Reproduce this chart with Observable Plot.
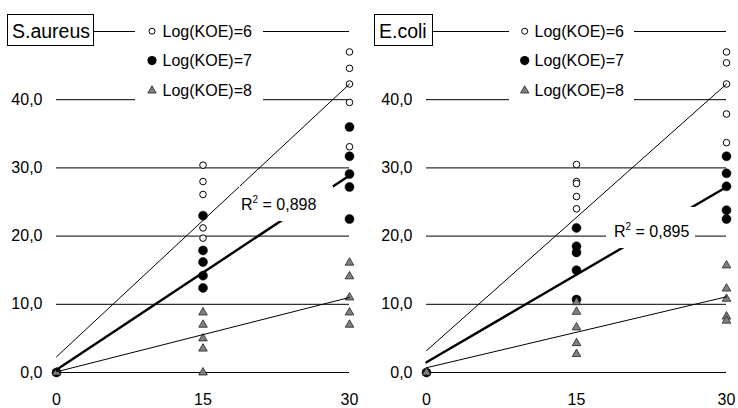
<!DOCTYPE html>
<html><head><meta charset="utf-8">
<script src="https://cdn.jsdelivr.net/npm/d3@7"></script>
<script src="https://cdn.jsdelivr.net/npm/@observablehq/plot@0.6"></script>
<style>
html,body{margin:0;padding:0;background:#fff;}
#wrap{position:relative;width:738px;height:408px;overflow:hidden;}
.panel{position:absolute;top:0;width:369px;height:408px;}
</style></head><body><div id="wrap"></div>
<script>
// ---- data ----
const times = [0, 15, 30];
const gridValues = [0, 10, 20, 30, 40, 50];
const yTickLabels = [0, 10, 20, 30, 40];   // the 50,0 label is hidden behind the title box in the reference
const seriesLabels = ["Log(KOE)=6", "Log(KOE)=7", "Log(KOE)=8"];
const panelTitles = ["S.aureus", "E.coli"];
const r2Values = ["0,898", "0,895"];

// S.aureus: measured values at t = 0, 15, 30
const aureus6 = [[0], [30.4, 28.0, 26.1, 21.2, 19.7], [47.0, 44.6, 42.3, 39.6, 33.1]];
const aureus7 = [[0], [23.0, 17.9, 16.2, 14.2, 12.4], [36.0, 31.7, 29.1, 27.2, 22.5]];
const aureus8 = [[0], [8.8, 7.0, 5.0, 3.5, 0.0], [16.1, 14.1, 11.0, 8.8, 7.0]];
// S.aureus trendline values at t = 0 and t = 30
const aureusTrend6 = [2.3, 42.3];
const aureusTrend7 = [0.4, 28.9];
const aureusTrend8 = [0.1, 11.0];

// E.coli: measured values at t = 0, 15, 30
const coli6 = [[0], [30.5, 28.0, 27.7, 25.8, 24.0], [47.0, 45.4, 42.3, 37.9, 33.7]];
const coli7 = [[0], [21.2, 18.5, 17.6, 15.0, 10.7], [31.7, 29.2, 27.3, 23.8, 22.5]];
const coli8 = [[0], [10.3, 8.9, 6.6, 4.3, 2.7], [15.7, 12.3, 10.8, 8.2, 7.6]];
// E.coli trendline values at t = 0 and t = 30
const coliTrend6 = [3.2, 42.3];
const coliTrend7 = [1.5, 27.2];
const coliTrend8 = [0.7, 11.1];

// ---- helpers ----
const toRows = arr => arr.flatMap((vals, i) => vals.map(v => ({t: times[i], v})));
const trendRows = tr => [{t: times[0], v: tr[0]}, {t: times[times.length - 1], v: tr[1]}];
const fmt = d => d.toFixed(1).replace(".", ",");
const FONT = "'Liberation Sans', Arial, Helvetica, sans-serif";

function panel(cfg) {
  const svg = Plot.plot({
    width: 369, height: 408,
    marginLeft: cfg.ml, marginRight: cfg.mr, marginTop: 31, marginBottom: 36,
    style: {fontFamily: FONT, fontSize: "16px", color: "#000", background: "transparent"},
    x: {domain: [0, 30], ticks: times, tickSize: 0, tickPadding: 21, label: null, tickFormat: d => String(d)},
    y: {domain: [0, 50], ticks: yTickLabels, tickSize: 0, tickPadding: 14, label: null, tickFormat: fmt},
    marks: [
      Plot.ruleY(gridValues, {stroke: "#000", strokeWidth: 1}),
      Plot.dot(toRows(cfg.s6), {x: "t", y: "v", r: 3.3, fill: "#fff", stroke: "#000", strokeWidth: 1}),
      Plot.dot(toRows(cfg.s7), {x: "t", y: "v", r: 4.5, fill: "#000", stroke: "#000", strokeWidth: 0.5}),
      Plot.dot(toRows(cfg.s8), {x: "t", y: "v", symbol: "triangle", r: 3.2, fill: "#808080", stroke: "#222", strokeWidth: 0.8}),
      Plot.line(trendRows(cfg.t6), {x: "t", y: "v", stroke: "#000", strokeWidth: 1}),
      Plot.line(trendRows(cfg.t7), {x: "t", y: "v", stroke: "#000", strokeWidth: 2.4}),
      Plot.line(trendRows(cfg.t8), {x: "t", y: "v", stroke: "#000", strokeWidth: 1})
    ]
  });
  const s = d3.select(svg);
  // legend
  const lg = s.append("g");
  lg.append("rect").attr("x", cfg.lgX).attr("y", 17).attr("width", cfg.lgW).attr("height", 87).attr("fill", "#fff");
  const rowsY = [31.2, 60.6, 90.6];
  lg.append("circle").attr("cx", cfg.mkX).attr("cy", rowsY[0]).attr("r", 3).attr("fill", "#fff").attr("stroke", "#000").attr("stroke-width", 1);
  lg.append("circle").attr("cx", cfg.mkX).attr("cy", rowsY[1]).attr("r", 4.6).attr("fill", "#000");
  lg.append("path").attr("transform", `translate(${cfg.mkX},${rowsY[2]})`)
    .attr("d", d3.symbol(d3.symbolTriangle, 30)()).attr("fill", "#808080").attr("stroke", "#222").attr("stroke-width", 0.8);
  seriesLabels.forEach((lab, i) => {
    lg.append("text").attr("x", cfg.txX).attr("y", rowsY[i] + 5.8).attr("text-anchor", "start")
      .attr("fill", "#000").style("font-size", "16px").text(lab);
  });
  // title box
  s.append("rect").attr("x", cfg.tbX).attr("y", 14.5).attr("width", cfg.tbW).attr("height", 31)
    .attr("fill", "#fff").attr("stroke", "#000").attr("stroke-width", 1);
  s.append("text").attr("x", cfg.tbX + 4.5).attr("y", 37.5).attr("text-anchor", "start").attr("fill", "#000")
    .style("font-size", "19.5px").text(cfg.title);
  // R² label
  s.append("rect").attr("x", cfg.r2.x).attr("y", cfg.r2.y).attr("width", cfg.r2.w).attr("height", cfg.r2.h).attr("fill", "#fff");
  const t = s.append("text").attr("x", cfg.r2.tx).attr("y", cfg.r2.ty).attr("text-anchor", "start").attr("fill", "#000").style("font-size", "16px");
  t.append("tspan").text("R");
  t.append("tspan").attr("dy", -7).style("font-size", "10px").text("2");
  t.append("tspan").attr("dy", 7).text(" = " + cfg.r2v);
  return svg;
}

const wrap = document.getElementById("wrap");
const cfgs = [
  {ml: 56, mr: 20, s6: aureus6, s7: aureus7, s8: aureus8, t6: aureusTrend6, t7: aureusTrend7, t8: aureusTrend8,
   lgX: 135, lgW: 128, mkX: 152, txX: 162.5, tbX: 7.5, tbW: 86, title: panelTitles[0],
   r2: {x: 239, y: 186, w: 94, h: 35, tx: 241, ty: 209.5}, r2v: r2Values[0]},
  {ml: 57, mr: 12, s6: coli6, s7: coli7, s8: coli8, t6: coliTrend6, t7: coliTrend7, t8: coliTrend8,
   lgX: 140, lgW: 125, mkX: 155.7, txX: 165.5, tbX: 5.5, tbW: 58, title: panelTitles[1],
   r2: {x: 237, y: 207, w: 89, h: 41, tx: 245, ty: 236.5}, r2v: r2Values[1]}
];
cfgs.forEach((c, i) => {
  const div = document.createElement("div");
  div.className = "panel";
  div.style.left = (i * 369) + "px";
  div.appendChild(panel(c));
  wrap.appendChild(div);
});
</script></body></html>
